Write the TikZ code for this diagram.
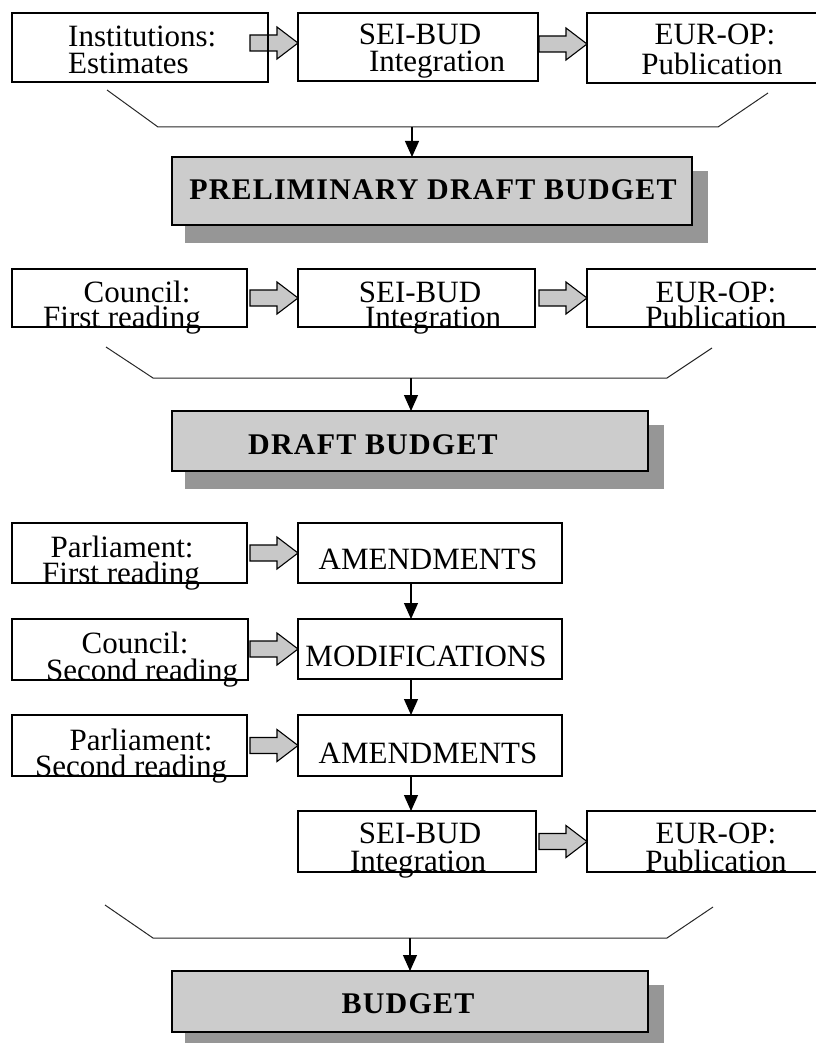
\documentclass[tikz,border=0pt]{standalone}
\usepackage{fontspec}
\setmainfont{Liberation Serif}
\usetikzlibrary{arrows.meta,calc,backgrounds}

% rectangle anchored at its top-left corner: [options]{x1}{y1}{x2}{y2}{name}
\newcommand{\procbox}[6][]{%
  \node[pbox,#1,minimum width={(#4-#2)*1pt},minimum height={(#5-#3)*1pt}] (#6) at (#2,#3) {};}

% broad grey arrow pointing at the west side of the second box, [raise] in pt
\newcommand{\blockarrow}[3][0]{%
  \draw[barrow] let \p1=(#2.east),\p2=(#3.west) in
    (\x2-48pt,\y2+#1pt+8pt) -- (\x2-21pt,\y2+#1pt+8pt) -- (\x2-21pt,\y2+#1pt+16pt) -- (\x2,\y2+#1pt)
    -- (\x2-21pt,\y2+#1pt-16pt) -- (\x2-21pt,\y2+#1pt-8pt) -- (\x2-48pt,\y2+#1pt-8pt) -- cycle;}

% drop shadow behind a grey result box
\newcommand{\boxshadow}[1]{%
  \fill[shadowgrey] ([shift={(13pt,-14pt)}]#1.north west) rectangle ([shift={(16pt,-18pt)}]#1.south east);}

\definecolor{boxgrey}{RGB}{204,204,204}
\definecolor{shadowgrey}{RGB}{150,150,150}
\definecolor{arrowgrey}{RGB}{200,200,200}
\definecolor{linegrey}{RGB}{40,40,40}

\begin{document}
\begin{tikzpicture}[x=1pt,y=-1pt,
  pbox/.style={draw=black,line width=1.3pt,rectangle,inner sep=0pt,outer sep=0pt,anchor=north west},
  resbox/.style={pbox,fill=boxgrey},
  txt/.style={inner sep=0pt,font=\fontsize{31}{31}\selectfont,anchor=base},
  btxt/.style={inner sep=0pt,font=\fontsize{30}{30}\selectfont\bfseries\addfontfeature{LetterSpace=4},anchor=base},
  barrow/.style={draw=black,line width=1.1pt,fill=arrowgrey,line join=miter},
  downarr/.style={draw=black,line width=1.2pt,-{Triangle[length=16pt,width=14pt]}},
  funnel/.style={draw=linegrey,line width=1pt}]

\useasboundingbox (0,0) rectangle (815,1043);

% ---- stage 1: preliminary draft budget ----
\procbox{12}{13}{268}{82}{inst}
\procbox{298}{13}{538}{81}{sei1}
\procbox{587}{13}{825}{83}{eur1}
\node[txt,anchor=base west] (inst-a) at (68,47) {Institutions:};
\node[txt,anchor=base west] (inst-b) at (68,74) {Estimates};
\node[txt] (sei1-a) at (420,45) {SEI-BUD};
\node[txt] (sei1-b) at (437,72) {Integration};
\node[txt] (eur1-a) at (715,45) {EUR-OP:};
\node[txt] (eur1-b) at (712,75) {Publication};

\coordinate (f1a) at (107,90);
\coordinate (f1b) at (158,127);
\coordinate (f1c) at (718,127);
\coordinate (f1d) at (768,93);
\coordinate (f1m) at (412,127);
\draw[funnel] (f1a) -- (f1b) -- (f1c) -- (f1d);

\procbox[resbox]{172}{157}{692}{225}{prel}
\node[btxt] (prel-t) at (433,200) {PRELIMINARY DRAFT BUDGET};
\draw[downarr] (f1m) -- (f1m |- prel.north);

% ---- stage 2: draft budget ----
\procbox{12}{269}{247}{327}{coun1}
\procbox{298}{269}{535}{327}{sei2}
\procbox{587}{269}{825}{327}{eur2}
\node[txt] (coun1-a) at (137,302) {Council:};
\node[txt] (coun1-b) at (122,327) {First reading};
\node[txt] (sei2-a) at (420,302) {SEI-BUD};
\node[txt] (sei2-b) at (433,327) {Integration};
\node[txt] (eur2-a) at (716,302) {EUR-OP:};
\node[txt] (eur2-b) at (716,327) {Publication};

\coordinate (f2a) at (106,347);
\coordinate (f2b) at (153,378);
\coordinate (f2c) at (667,378);
\coordinate (f2d) at (712,348);
\coordinate (f2m) at (411,378);
\draw[funnel] (f2a) -- (f2b) -- (f2c) -- (f2d);

\procbox[resbox]{172}{411}{648}{471}{draft}
\node[btxt] (draft-t) at (373,454) {DRAFT BUDGET};
\draw[downarr] (f2m) -- (f2m |- draft.north);

% ---- stage 3: readings ----
\procbox{12}{523}{247}{583}{parl1}
\procbox{298}{523}{562}{583}{amd1}
\node[txt] (parl1-a) at (122,557) {Parliament:};
\node[txt] (parl1-b) at (121,583) {First reading};
\node[txt] (amd1-t) at (428,569) {AMENDMENTS};

\procbox{12}{619}{248}{680}{coun2}
\procbox{298}{619}{562}{679}{mod}
\node[txt] (coun2-a) at (135,653) {Council:};
\node[txt] (coun2-b) at (142,680) {Second reading};
\node[txt] (mod-t) at (426,666) {MODIFICATIONS};

\procbox{12}{715}{247}{776}{parl2}
\procbox{298}{715}{562}{776}{amd2}
\node[txt] (parl2-a) at (141,750) {Parliament:};
\node[txt] (parl2-b) at (131,776) {Second reading};
\node[txt] (amd2-t) at (428,763) {AMENDMENTS};

\procbox{298}{811}{536}{872}{sei3}
\procbox{587}{811}{825}{872}{eur3}
\node[txt] (sei3-a) at (420,843) {SEI-BUD};
\node[txt] (sei3-b) at (418,871) {Integration};
\node[txt] (eur3-a) at (716,843) {EUR-OP:};
\node[txt] (eur3-b) at (716,871) {Publication};

\draw[downarr] ([xshift=113pt]amd1.south west) -- ([xshift=113pt]mod.north west);
\draw[downarr] ([xshift=113pt]mod.south west) -- ([xshift=113pt]amd2.north west);
\draw[downarr] ([xshift=113pt]amd2.south west) -- ([xshift=113pt]sei3.north west);

% ---- stage 4: budget ----
\coordinate (f3a) at (105,905);
\coordinate (f3b) at (153,938);
\coordinate (f3c) at (667,938);
\coordinate (f3d) at (713,907);
\coordinate (f3m) at (410,938);
\draw[funnel] (f3a) -- (f3b) -- (f3c) -- (f3d);

\procbox[resbox]{172}{971}{648}{1032}{budg}
\node[btxt] (budg-t) at (408,1013) {BUDGET};
\draw[downarr] (f3m) -- (f3m |- budg.north);

% ---- broad arrows and shadows behind the boxes ----
\begin{pgfonlayer}{background}
  \boxshadow{prel}
  \boxshadow{draft}
  \boxshadow{budg}
  \blockarrow[4]{inst}{sei1}
  \blockarrow[4]{sei1}{eur1}
  \blockarrow{coun1}{sei2}
  \blockarrow{sei2}{eur2}
  \blockarrow{parl1}{amd1}
  \blockarrow{coun2}{mod}
  \blockarrow{parl2}{amd2}
  \blockarrow{sei3}{eur3}
\end{pgfonlayer}
\end{tikzpicture}
\end{document}
